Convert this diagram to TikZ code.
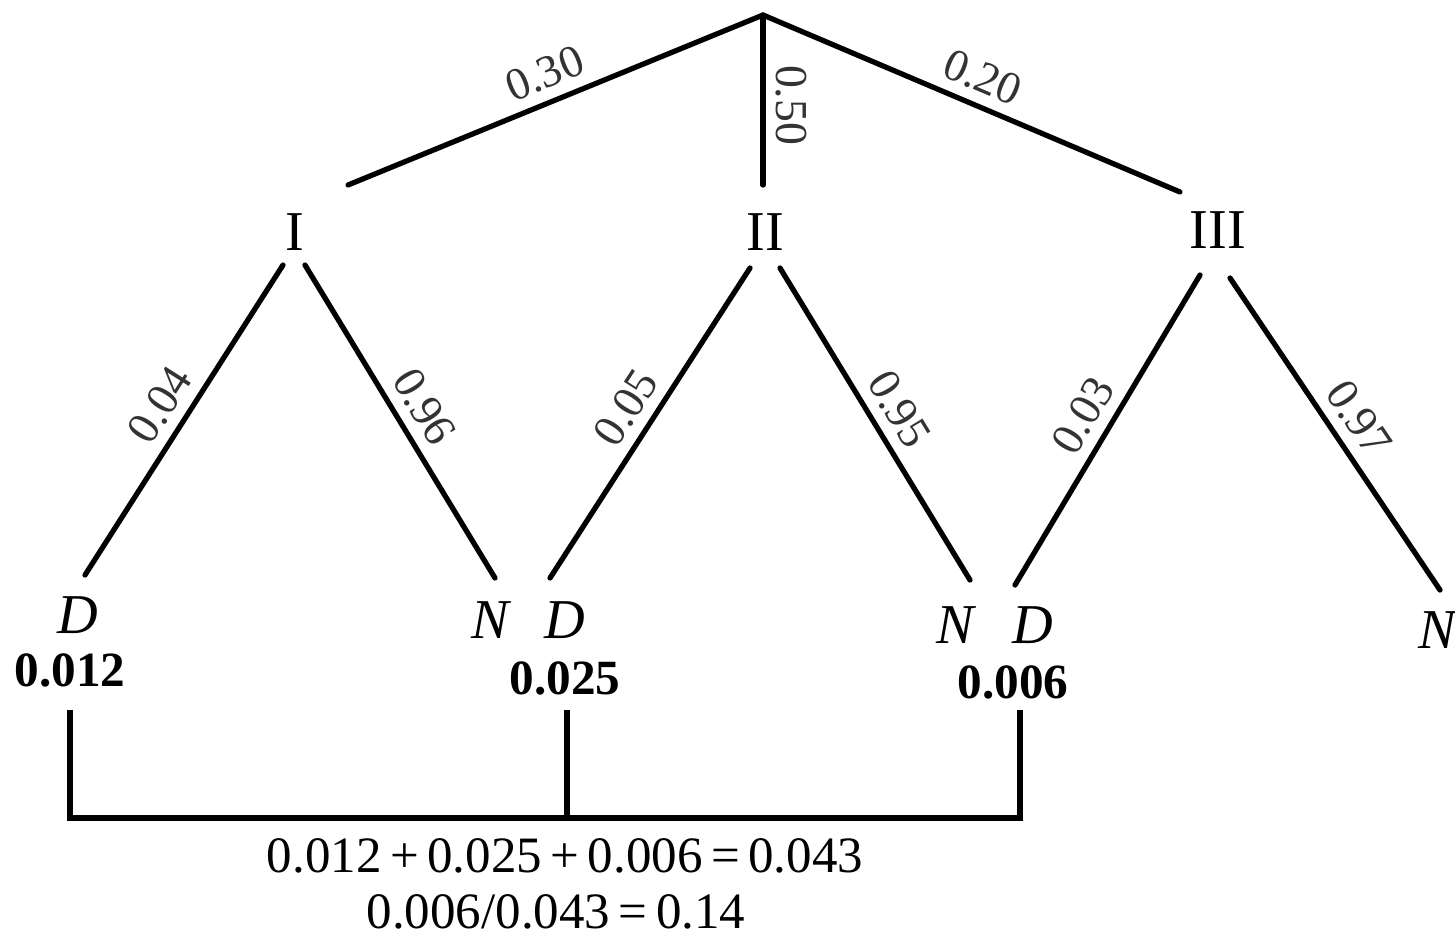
\documentclass[tikz,border=0pt]{standalone}
\usepackage{fontspec}
\setmainfont{Liberation Serif}
\begin{document}
\begin{tikzpicture}[x=0.01cm,y=-0.01cm,
  branch/.style={line width=1.5pt, line cap=round},
  prob/.style={font=\fontsize{13}{15}\selectfont, text=black!80, sloped, above, pos=0.5, inner sep=3pt},
  stage/.style={font=\fontsize{16}{18}\selectfont, inner sep=0pt},
  outcome/.style={font=\fontsize{16}{18}\selectfont\itshape, inner sep=0pt},
  value/.style={font=\fontsize{14}{16}\selectfont\bfseries, inner sep=0pt},
  sumtext/.style={font=\fontsize{14.5}{16}\selectfont, inner sep=0pt}]
\useasboundingbox (0,0) rectangle (1455,938);

% root and ends of the first-level branches
\coordinate (root) at (763,15);
\coordinate (t1) at (348,185);
\coordinate (t2) at (763,185);
\coordinate (t3) at (1180,192);

% machines
\node[stage] (m1) at (295,232) {I};
\node[stage] (m2) at (765,232) {II};
\node[stage] (m3) at (1218,230) {III};

% upper ends of the second-level branches
\coordinate (u1l) at (283,265);
\coordinate (u1r) at (305,265);
\coordinate (u2l) at (750,268);
\coordinate (u2r) at (780,268);
\coordinate (u3l) at (1200,275);
\coordinate (u3r) at (1230,278);

% lower ends of the second-level branches
\coordinate (l1d) at (85,575);
\coordinate (l1n) at (495,578);
\coordinate (l2d) at (550,578);
\coordinate (l2n) at (970,580);
\coordinate (l3d) at (1015,585);
\coordinate (l3n) at (1440,590);

% outcomes
\node[outcome] (d1) at (78,615) {D};
\node[outcome] (n1) at (490,620) {N};
\node[outcome] (d2) at (565,620) {D};
\node[outcome] (n2) at (955,625) {N};
\node[outcome] (d3) at (1033,625) {D};
\node[outcome] (n3) at (1437,630) {N};

% joint probabilities
\node[value] (v1) at (70,670) {0.012};
\node[value] (v2) at (565,678) {0.025};
\node[value] (v3) at (1013,682) {0.006};

% first-level branches
\draw[branch] (t1) -- node[prob] {0.30} (root);
\draw[branch] (root) -- node[prob, pos=0.53] {0.50} (t2);
\draw[branch] (root) -- node[prob] {0.20} (t3);

% second-level branches
\draw[branch] (l1d) -- node[prob] {0.04} (u1l);
\draw[branch] (u1r) -- node[prob] {0.96} (l1n);
\draw[branch] (l2d) -- node[prob] {0.05} (u2l);
\draw[branch] (u2r) -- node[prob] {0.95} (l2n);
\draw[branch] (l3d) -- node[prob] {0.03} (u3l);
\draw[branch] (u3r) -- node[prob] {0.97} (l3n);

% collecting bracket
\coordinate (b1) at (70,710);
\coordinate (b2) at (567,710);
\coordinate (b3) at (1020,710);
\coordinate (c1) at (70,818);
\coordinate (c2) at (567,818);
\coordinate (c3) at (1020,818);
\draw[branch, line cap=butt] (b1) -- (c1) -- (c3) -- (b3);
\draw[branch, line cap=butt] (b2) -- (c2);

% totals
\node[sumtext] (s1) at (565,856) {0.012\,+\,0.025\,+\,0.006\,=\,0.043};
\node[sumtext] (s2) at (556,912) {0.006/0.043\,=\,0.14};
\end{tikzpicture}
\end{document}
